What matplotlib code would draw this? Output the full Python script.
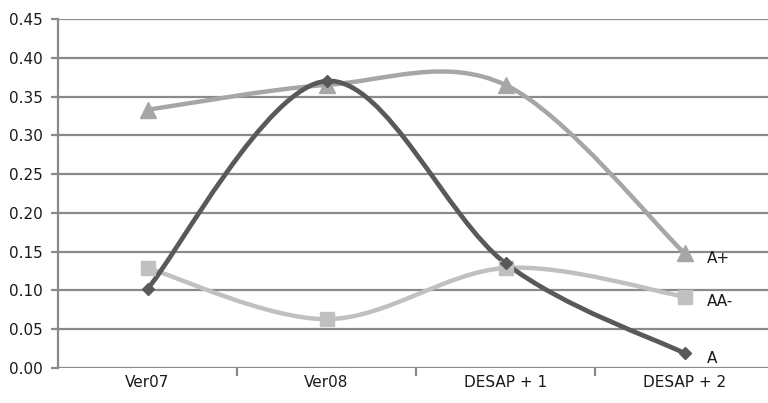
import numpy as np
import matplotlib.pyplot as plt
from matplotlib.path import Path
from matplotlib.patches import PathPatch

categories = ['Ver07', 'Ver08', 'DESAP + 1', 'DESAP + 2']
a_plus = [0.333, 0.365, 0.365, 0.148]
aa_minus = [0.129, 0.063, 0.129, 0.092]
a_vals = [0.102, 0.370, 0.135, 0.019]
y_ticks = [0.00, 0.05, 0.10, 0.15, 0.20, 0.25, 0.30, 0.35, 0.40, 0.45]

GRID = '#8a8a8a'
TEXT = '#1a1a1a'


def smooth_path(xs, ys):
    """Catmull-Rom style curve through the points, as cubic Bezier segments."""
    pts = np.column_stack([xs, ys]).astype(float)
    n = len(pts)
    verts = [pts[0]]
    codes = [Path.MOVETO]
    for i in range(n - 1):
        p0 = pts[i - 1] if i > 0 else pts[i]
        p1 = pts[i]
        p2 = pts[i + 1]
        p3 = pts[i + 2] if i + 2 < n else pts[i + 1]
        c1 = p1 + (p2 - p0) / 6.0
        c2 = p2 - (p3 - p1) / 6.0
        verts += [c1, c2, p2]
        codes += [Path.CURVE4] * 3
    return Path(verts, codes)


fig = plt.figure(figsize=(7.68, 4.03), dpi=100)
ax = fig.add_axes([58 / 768, 35 / 403, 710 / 768, 349 / 403])

x = np.arange(len(categories))
series = [
    (a_plus, 'A+', '#a6a6a6', '^', 11.5, 3.2),
    (aa_minus, 'AA-', '#c0c0c0', 's', 10, 3.2),
    (a_vals, 'A', '#595959', 'D', 6.5, 3.4),
]

for vals, label, color, marker, ms, lw in series:
    ax.add_patch(PathPatch(smooth_path(x, vals), fill=False, edgecolor=color,
                           lw=lw, capstyle='round', zorder=3))
    ax.plot(x, vals, linestyle='none', marker=marker, ms=ms, color=color,
            mec=color, zorder=4)
    ax.annotate(label, (x[-1], vals[-1]), xytext=(16, -3.5), textcoords='offset points',
                fontsize=11, color=TEXT, va='center', ha='left')

ax.set_xlim(-0.5, -0.5 + 710 / 179)
ax.set_ylim(0, 0.45)
ax.set_yticks(y_ticks)
ax.set_yticklabels([f'{v:.2f}' for v in y_ticks])
ax.set_xticks(x)
ax.set_xticklabels(categories)
ax.set_xticks([0.5, 1.5, 2.5], minor=True)

ax.grid(axis='y', color=GRID, lw=1.6)
ax.set_axisbelow(True)
for side in ['top', 'right', 'bottom']:
    ax.spines[side].set_visible(False)
ax.spines['left'].set_color(GRID)
ax.spines['left'].set_linewidth(1.6)

ax.tick_params(axis='y', length=5, width=1.6, color=GRID, labelsize=11,
               labelcolor=TEXT, pad=6)
ax.tick_params(axis='x', which='major', length=0, labelsize=11,
               labelcolor=TEXT, pad=5)
ax.tick_params(axis='x', which='minor', length=6, width=1.6, color=GRID)

fig.savefig('out.png', dpi=100)
